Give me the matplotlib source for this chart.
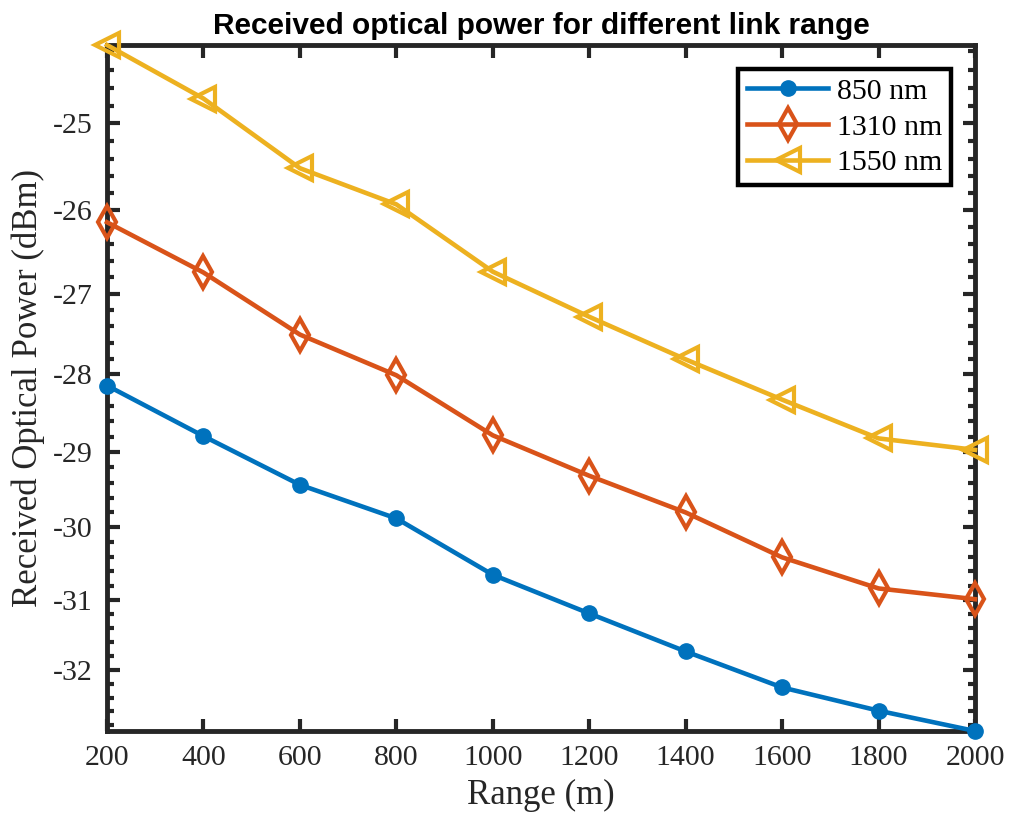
import numpy as np
import matplotlib
matplotlib.use("Agg")
import matplotlib.pyplot as plt
from matplotlib.ticker import FixedLocator, FuncFormatter

plt.rcParams['axes.unicode_minus'] = False

# link range (m)
ranges = [200, 400, 600, 800, 1000, 1200, 1400, 1600, 1800, 2000]
# received optical power (dBm)
p850 = [-28.14, -28.79, -29.43, -29.88, -30.65, -31.19, -31.73, -32.25, -32.59, -32.89]
p1310 = [-26.14, -26.74, -27.50, -28.01, -28.78, -29.31, -29.80, -30.41, -30.84, -30.99]
p1550 = [-24.13, -24.72, -25.51, -25.93, -26.73, -27.28, -27.81, -28.32, -28.82, -28.97]
labels = ['850 nm', '1310 nm', '1550 nm']
yticks = [-32, -31, -30, -29, -28, -27, -26, -25]

blue = '#0072BD'
orange = '#D95319'
yellow = '#EDB120'
dark = '#262626'


# the original y axis spaces ticks like a log scale of |P|
def fwd(y):
    return -np.log(-np.asarray(y, dtype=float))


def inv(u):
    return -np.exp(-np.asarray(u, dtype=float))


fig = plt.figure(figsize=(10.13, 8.23), dpi=100)
ax = fig.add_axes([0.1056, 0.1118, 0.8569, 0.8335])
ax.set_yscale('function', functions=(fwd, inv))

ax.plot(ranges, p850, '-o', color=blue, lw=3.3, ms=11, label=labels[0], clip_on=False, zorder=3)
ax.plot(ranges, p1310, '-d', color=orange, lw=3.3, ms=16, mfc='none', mew=3,
        label=labels[1], clip_on=False, zorder=3)
ax.plot(ranges, p1550, '-<', color=yellow, lw=3.3, ms=17, mfc='none', mew=3,
        label=labels[2], clip_on=False, zorder=3)

ax.set_xlim(min(ranges), max(ranges))
ax.set_ylim(min(p850), max(p1550))
ax.set_xticks(ranges)
ax.yaxis.set_major_locator(FixedLocator(yticks))
ax.yaxis.set_minor_locator(FixedLocator(np.round(np.arange(-32.8, -24.1, 0.2), 1)))
ax.yaxis.set_major_formatter(FuncFormatter(lambda v, pos: '%d' % round(v)))
ax.yaxis.set_minor_formatter(FuncFormatter(lambda v, pos: ''))

serif = ['Liberation Serif', 'DejaVu Serif']
for s in ax.spines.values():
    s.set_linewidth(3.5)
    s.set_color(dark)
ax.tick_params(which='both', direction='in', top=True, right=True, colors=dark,
               labelsize=21.5, width=3, pad=10)
ax.tick_params(which='major', length=9)
ax.tick_params(which='minor', length=5)
for lab in ax.get_xticklabels() + ax.get_yticklabels():
    lab.set_family(serif)
    lab.set_color(dark)

ax.set_xlabel('Range (m)', fontsize=25, family=serif, color=dark, labelpad=6)
ax.set_ylabel('Received Optical Power (dBm)', fontsize=25, family=serif, color=dark, labelpad=6)
ax.set_title('Received optical power for different link range', fontsize=21.5,
             fontweight='bold', family=['Liberation Sans', 'DejaVu Sans'], pad=8)

leg = ax.legend(loc='upper right', prop={'family': serif, 'size': 21.5}, fancybox=False,
                framealpha=1, edgecolor='black', borderpad=0.3, labelspacing=0.3,
                handlelength=2.7, handletextpad=0.3, borderaxespad=0.8)
leg.get_frame().set_linewidth(3.2)

fig.savefig('out.png', dpi=100)
